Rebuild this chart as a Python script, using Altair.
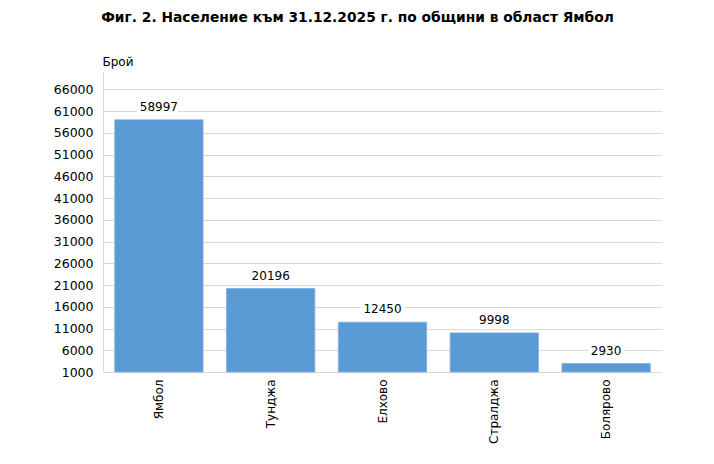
import altair as alt
import pandas as pd

categories = ["Ямбол", "Тунджа", "Елхово", "Стралджа", "Болярово"]
values = [58997, 20196, 12450, 9998, 2930]
y_ticks = [1000, 6000, 11000, 16000, 21000, 26000, 31000, 36000, 41000, 46000,
           51000, 56000, 61000, 66000]

df = pd.DataFrame({"name": categories, "value": values})

FONT = "DejaVu Sans"

x_enc = alt.X("name:N", sort=categories, title=None,
              scale=alt.Scale(paddingInner=0.21, paddingOuter=0.105),
              axis=alt.Axis(labelAngle=270, labelAlign="right", labelBaseline="middle",
                            labelPadding=7, ticks=False, domain=False, grid=False,
                            labelFont=FONT, labelFontSize=12, labelColor="#000000"))
y_scale = alt.Scale(domain=[1000, 70000], zero=False, nice=False)

base = alt.Chart(df)

bars = base.mark_bar(color="#5B9BD5", stroke="#7DAEDD", strokeWidth=0.8).encode(
    x=x_enc,
    y=alt.Y("value:Q", scale=y_scale, title="Брой",
            axis=alt.Axis(values=y_ticks, tickCount=30, format="d", grid=True,
                          gridColor="#d9d9d9",
                          gridWidth=1, domain=True, domainColor="#d9d9d9", ticks=False,
                          labelOverlap=False,
                          labelFont=FONT, labelFontSize=12.5, labelColor="#000000",
                          labelPadding=10,
                          titleAngle=0, titleAlign="left", titleBaseline="bottom",
                          titleX=-1, titleY=-4, titleFont=FONT, titleFontSize=12,
                          titleFontWeight="normal", titleColor="#000000")),
    y2=alt.datum(1000),
)

halo = base.mark_text(font=FONT, fontSize=12, dy=-13, baseline="middle",
                      color="white", stroke="white", strokeWidth=8,
                      strokeJoin="round").encode(
    x=alt.X("name:N", sort=categories),
    y=alt.Y("value:Q", scale=y_scale),
    text=alt.Text("value:Q", format="d"),
)

labels = base.mark_text(font=FONT, fontSize=12, dy=-13, baseline="middle",
                        color="#000000").encode(
    x=alt.X("name:N", sort=categories),
    y=alt.Y("value:Q", scale=y_scale),
    text=alt.Text("value:Q", format="d"),
)

chart = alt.layer(bars, halo, labels).properties(
    width=559,
    height=300,
    background="white",
    title=alt.TitleParams(
        "Фиг. 2. Население към 31.12.2025 г. по общини в област Ямбол",
        font=FONT, fontSize=13.8, fontWeight="bold", color="#000000",
        anchor="middle", frame="group", dx=-25, offset=30,
    ),
    autosize=alt.AutoSizeParams(type="none"),
    padding={"left": 95, "top": 64, "right": 44, "bottom": 84},
).configure_view(stroke=None)

chart.save("out.html", embed_options={"renderer": "svg", "actions": False})
